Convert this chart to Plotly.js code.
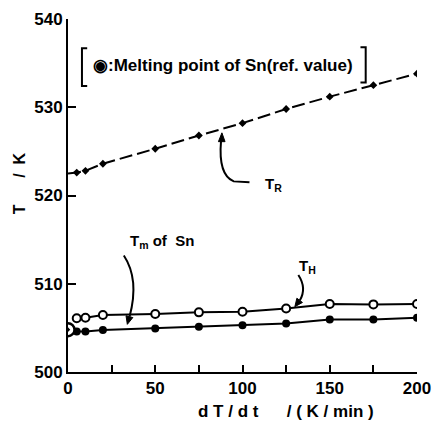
<!DOCTYPE html>
<html><head><meta charset="utf-8">
<script src="https://cdn.plot.ly/plotly-3.0.1.min.js"></script>
<style>body{margin:0;background:#fff}#c{width:432px;height:422px}</style>
</head><body><div id="c"></div>
<script>
// Data
const rateR = [5, 10, 20, 50, 75, 100, 125, 150, 175, 200];
const TR    = [522.6, 522.8, 523.6, 525.3, 526.8, 528.2, 529.8, 531.2, 532.5, 533.8];
const rateH = [5, 10, 20, 50, 75, 100, 125, 150, 175, 200];
const TH    = [506.1, 506.15, 506.45, 506.57, 506.76, 506.83, 507.2, 507.7, 507.66, 507.7];
const rateM = [5, 10, 20, 50, 75, 100, 125, 150, 175, 200];
const TM    = [504.6, 504.6, 504.75, 504.94, 505.13, 505.3, 505.5, 505.96, 505.96, 506.15];
const refX  = [0];
const refT  = [504.8];
const xTicks = [0, 50, 100, 150, 200];
const yTicks = [500, 510, 520, 530, 540];

const F = 'Liberation Sans, Arial, sans-serif';
const traces = [
  {x:[0].concat(rateR), y:[522.5].concat(TR), mode:'lines', line:{color:'#000', width:2, dash:'13px,5px'}, hoverinfo:'skip'},
  {x:rateR, y:TR, mode:'markers', marker:{symbol:'diamond', size:6, color:'#000'}},
  {x:rateH, y:TH, mode:'lines+markers', line:{color:'#000', width:2},
   marker:{symbol:'circle', size:8, color:'#fff', line:{color:'#000', width:2}}},
  {x:rateM, y:TM, mode:'lines+markers', line:{color:'#000', width:2},
   marker:{symbol:'circle', size:8, color:'#000'}},
  {x:refX, y:refT, mode:'markers', marker:{symbol:'circle-dot', size:13, color:'#fff', line:{color:'#000', width:2.5}}}
];

const shapes = [
  // legend brackets
  {type:'path', xref:'paper', yref:'paper', path:'M 0.055 0.917 L 0.040 0.917 L 0.040 0.810 L 0.055 0.810', line:{color:'#000', width:2}},
  {type:'path', xref:'paper', yref:'paper', path:'M 0.838 0.920 L 0.853 0.920 L 0.853 0.820 L 0.838 0.820', line:{color:'#000', width:2}},
  // T_R curved leader + head
  {type:'path', xref:'x', yref:'y', path:'M 104 521.5 L 95 521.6 Q 86 522.3 87.7 526.2', line:{color:'#000', width:2}},
  {type:'path', xref:'x', yref:'y', path:'M 88.2 527.1 L 86.2 526.1 L 90.0 526.1 Z', fillcolor:'#000', line:{color:'#000', width:1}},
  // T_H curved leader + head
  {type:'path', xref:'x', yref:'y', path:'M 132 511.0 Q 137 509.5 132.8 508.1', line:{color:'#000', width:2}},
  {type:'path', xref:'x', yref:'y', path:'M 130 507.4 L 134.35 507.88 L 131.15 508.36 Z', fillcolor:'#000', line:{color:'#000', width:1}},
  // T_m curved leader + head
  {type:'path', xref:'x', yref:'y', path:'M 32 513.2 Q 41 510.5 35.3 506.3', line:{color:'#000', width:2}},
  {type:'path', xref:'x', yref:'y', path:'M 34 505.4 L 37.15 506.17 L 33.25 506.37 Z', fillcolor:'#000', line:{color:'#000', width:1}}
];

const annotations = [
  {xref:'paper', yref:'paper', x:0.445, y:0.868, xanchor:'center', yanchor:'middle', text:'<b>\u25C9:Melting point of Sn(ref. value)</b>', showarrow:false, font:{family:F, size:17, color:'#000'}},
  {x:118, y:521.3, xanchor:'center', yanchor:'middle', text:'<b>T<sub>R</sub></b>', showarrow:false, font:{family:F, size:15, color:'#000'}},
  {x:137, y:511.9, xanchor:'center', yanchor:'middle', text:'<b>T<sub>H</sub></b>', showarrow:false, font:{family:F, size:15, color:'#000'}},
  {x:54, y:514.8, xanchor:'center', yanchor:'middle', text:'<b>T<sub>m</sub> of  Sn</b>', showarrow:false, font:{family:F, size:15, color:'#000'}},
  {xref:'paper', yref:'paper', x:-0.14, y:0.535, xanchor:'center', yanchor:'middle', textangle:-90, text:'<b>T \u00a0\u00a0\u00a0\u00a0 / \u00a0K</b>', showarrow:false, font:{family:F, size:16, color:'#000'}},
  {xref:'paper', yref:'paper', x:0.625, y:-0.113, xanchor:'center', yanchor:'middle', text:'<b>d T / d t \u00a0\u00a0\u00a0\u00a0 / ( K / min )</b>', showarrow:false, font:{family:F, size:17, color:'#000'}}
];

const layout = {
  width:432, height:422,
  margin:{l:68, r:15, t:19, b:50},
  paper_bgcolor:'#fff', plot_bgcolor:'#fff',
  showlegend:false,
  font:{family:F, color:'#000'},
  xaxis:{range:[0,200], tickvals:xTicks, ticks:'inside', ticklen:7, tickwidth:2, tickcolor:'#000',
    showline:true, linewidth:2, linecolor:'#000', showgrid:false, zeroline:false,
    tickfont:{family:F, size:17, color:'#000', weight:'bold'},
    minor:{dtick:25, tick0:0, ticks:'inside', ticklen:7, tickwidth:2, tickcolor:'#000', showgrid:false}},
  yaxis:{range:[500,540], tickvals:yTicks, ticks:'inside', ticklen:8, tickwidth:2, tickcolor:'#000',
    showline:true, linewidth:2, linecolor:'#000', showgrid:false, zeroline:false,
    tickfont:{family:F, size:17, color:'#000', weight:'bold'}},
  shapes:shapes, annotations:annotations
};
Plotly.newPlot('c', traces, layout, {displayModeBar:false, staticPlot:true});
</script></body></html>
